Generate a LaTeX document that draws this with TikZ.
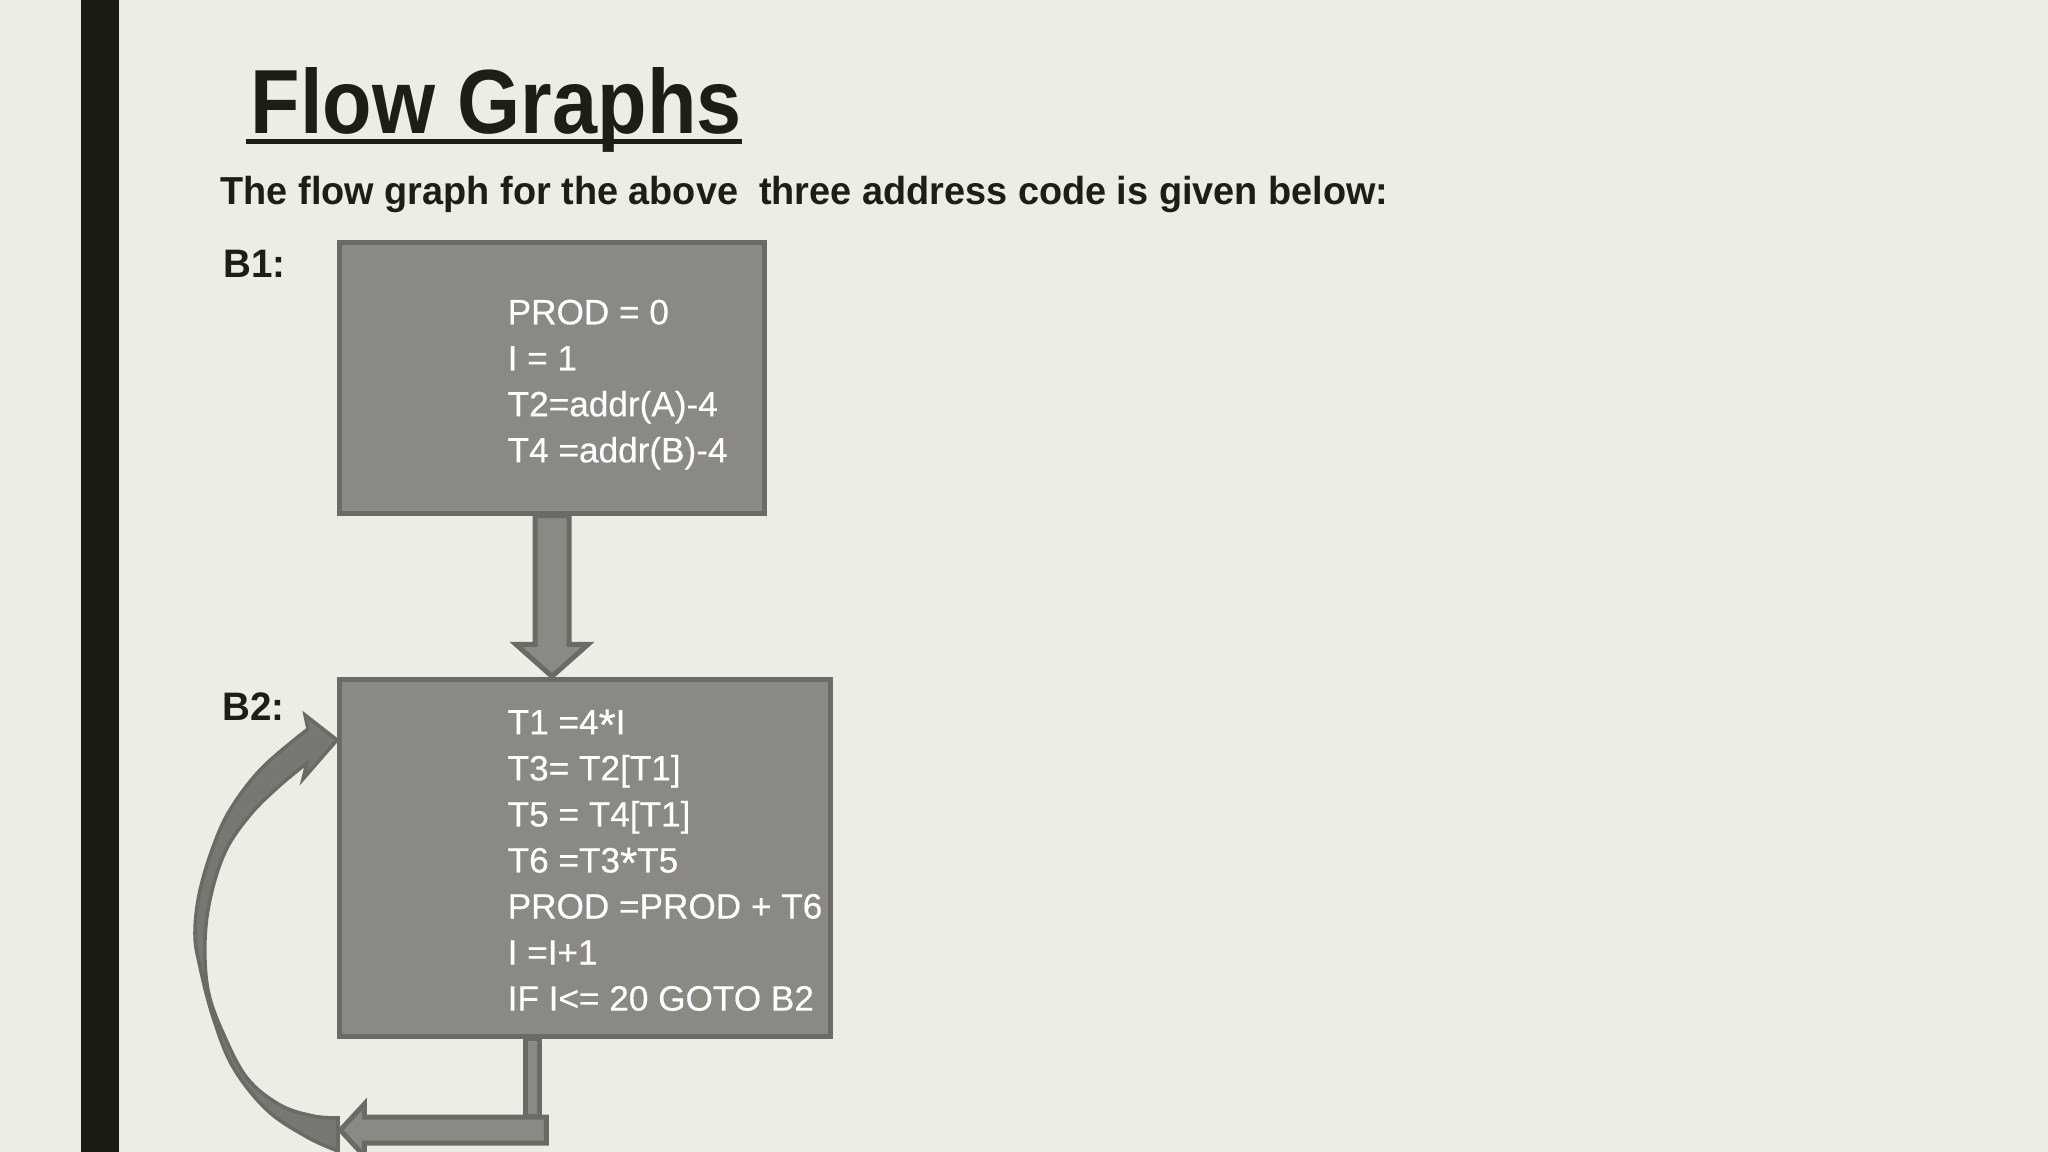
\documentclass[tikz,border=0pt]{standalone}
\usepackage{fontspec}
\setmainfont{Liberation Sans}
\newfontfamily\titlefont[FakeStretch=0.89]{Liberation Sans Bold}
\newfontfamily\subfont[FakeStretch=0.97]{Liberation Sans Bold}
\newfontfamily\codefont[FakeBold=0.4]{Liberation Sans}
\newcommand\astk{\raisebox{-0.3ex}{\scalebox{1.25}{*}}}
\usetikzlibrary{calc}
\definecolor{bg}{HTML}{EEEDE5}
\definecolor{barc}{HTML}{1B1B12}
\definecolor{ink}{HTML}{1E1E14}
\definecolor{boxfill}{HTML}{8A8984}
\definecolor{boxline}{HTML}{6B6A65}
\definecolor{curvefill}{HTML}{787771}
\tikzset{
  blockbox/.style={draw=boxline, fill=boxfill, line width=1.42pt, inner sep=0pt, outer sep=0pt},
  codetext/.style={text=white, font=\codefont\fontsize{10}{13.09}\selectfont, align=left, inner sep=0pt, anchor=north west},
  labeltext/.style={text=ink, font=\subfont\fontsize{11.3}{13}\selectfont, inner sep=0pt, anchor=base west},
  blockarrow/.style={draw=boxline, fill=boxfill, line width=1.42pt, line join=miter},
  curvearrow/.style={draw=boxline, fill=curvefill, line width=1.0pt, line join=miter}
}
\begin{document}
\begin{tikzpicture}[x=0.01cm, y=-0.01cm]
\useasboundingbox (0,0) rectangle (2048,1152);
\fill[bg] (0,0) rectangle (2048,1152);
\fill[barc] (81,0) rectangle (119,1152);

% title
\node[text=ink, font=\titlefont\fontsize{25.9}{30}\selectfont, inner sep=0pt, anchor=base west] (title) at (250,134) {Flow Graphs};
\draw[ink, line width=1.42pt] ($(title.base west)+(-4,8)$) -- ($(title.base east)+(0,8)$);
\node[text=ink, font=\subfont\fontsize{11.1}{13}\selectfont, inner sep=0pt, anchor=base west] (sub) at (220,205) {The flow graph for the above\ \ three address code is given below:};

% labels
\node[labeltext] (lb1) at (223,278) {B1:};
\node[labeltext] (lb2) at (222,720) {B2:};

% curved back arrow
\coordinate (ctip) at (337,740);
\filldraw[curvearrow] plot[smooth, tension=0.6] coordinates {(338,1151) (307,1137) (267,1110) (233,1067) (213,1017) (200,967) (195,935) (199,895) (212,850) (230,810) (262,768) (308,729)}
  -- (305,715) -- (ctip) -- (303,779) --
  plot[smooth, tension=0.6] coordinates {(307,763) (278,787) (250,815) (226,850) (211,895) (205,940) (208,990) (223,1033) (247,1078) (280,1105) (313,1116) (338,1118)} -- cycle;

% boxes
\node[blockbox, minimum width=4.25cm, minimum height=2.71cm] (b1) at (552,378) {};
\node[blockbox, minimum width=4.91cm, minimum height=3.57cm] (b2) at (585,858) {};

% arrow B1 -> B2
\coordinate (p) at (b1.south |- b2.north);
\filldraw[blockarrow] ($(b1.south)+(-17,2)$) -- ($(p)+(-17,-35)$) -- ($(p)+(-36,-35)$) -- ($(p)+(0,-3)$) -- ($(p)+(36,-35)$) -- ($(p)+(17,-35)$) -- ($(b1.south)+(17,2)$) -- cycle;

% loop arrows from B2
\coordinate (ls) at ($(b2.south west)+(193,2)$);
\filldraw[blockarrow] ($(ls)+(-7,0)$) rectangle ($(ls)+(7,78)$);
\coordinate (lt) at ($(b2.south west)+(1,93.5)$);
\filldraw[blockarrow] (lt) -- ($(lt)+(24,-26)$) -- ($(lt)+(24,-13)$) -- ($(lt)+(206,-13)$) -- ($(lt)+(206,13)$) -- ($(lt)+(24,13)$) -- ($(lt)+(24,26)$) -- cycle;

% code
\node[codetext] (b1t) at (507,299) {PROD = 0\\I = 1\\T2=addr(A)-4\\T4 =addr(B)-4};
\node[codetext] (b2t) at (507,709) {T1 =4\astk I\\T3= T2[T1]\\T5 = T4[T1]\\T6 =T3\astk T5\\PROD =PROD + T6\\I =I+1\\IF I<= 20 GOTO B2};
\end{tikzpicture}
\end{document}
